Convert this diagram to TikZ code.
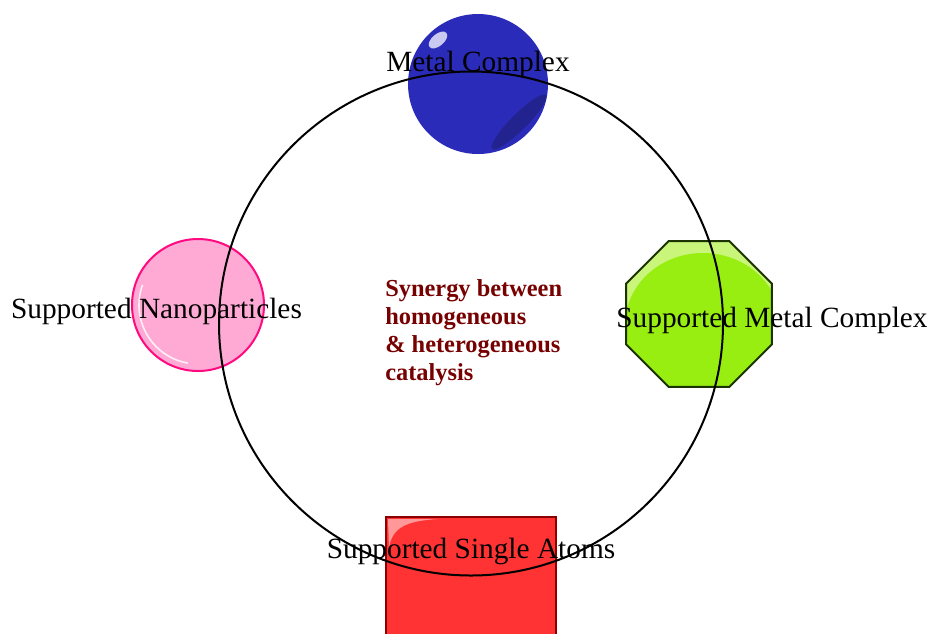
\documentclass[tikz,border=0pt]{standalone}
\usepackage{fontspec}
\setmainfont{Liberation Serif}
\usepackage{tikz}
\usetikzlibrary{shapes.geometric}

\definecolor{sphereblue}{HTML}{2B2BBA}
\definecolor{spheredark}{HTML}{23238F}
\definecolor{spherelight}{HTML}{C8C8F0}
\definecolor{nanofill}{HTML}{FFAAD5}
\definecolor{nanoline}{HTML}{FF0A80}
\definecolor{octfill}{HTML}{99EE11}
\definecolor{octlight}{HTML}{C8F57A}
\definecolor{octline}{HTML}{1A3300}
\definecolor{atomfill}{HTML}{FF3333}
\definecolor{atomline}{HTML}{8B0000}
\definecolor{synred}{HTML}{770000}

\begin{document}
\begin{tikzpicture}[x=0.75pt,y=-0.75pt,
	label/.style={font=\fontsize{22}{26}\selectfont, inner sep=0pt, anchor=base},
	shapebox/.style={inner sep=0pt, outer sep=0pt, line width=1.5pt}]
	\useasboundingbox (0,0) rectangle (932,633);

	% shapes first, then the ring, then the labels
	\node[shapebox, circle, fill=sphereblue, minimum size=105pt] (metalball) at (478,84) {};
	\fill[spheredark, rotate around={45:(519,122)}] (519,122) ellipse (38 and 8);
	\fill[spherelight, rotate around={40:(438,40)}] (438,40) ellipse (11 and 6);

	\node[shapebox, circle, draw=nanoline, fill=nanofill, minimum size=99pt] (nanoball) at (198,305) {};
	\draw[white, line width=1.2pt, opacity=0.8] (198,305) ++(200:59) arc[start angle=200, end angle=100, radius=59];

	\node[shapebox, regular polygon, regular polygon sides=8, fill=octfill, minimum size=118.5pt] (octagon) at (699,314) {};
	\begin{scope}[shift={(699,314)}]
		\clip (22.5:79) \foreach \a in {67.5,112.5,...,337.5} { -- (\a:79) } -- cycle;
		\fill[octlight] (0,0) circle (80);
		\fill[octfill] (4,11) ellipse (78 and 72);
	\end{scope}
	\node[shapebox, regular polygon, regular polygon sides=8, draw=octline, minimum size=118.5pt] at (octagon) {};

	\node[shapebox, rectangle, draw=atomline, fill=atomfill, minimum size=127.5pt] (atombox) at (471,602) {};
	\fill[white, opacity=0.5] (388,519) -- (438,519) .. controls (405,521) and (392,528) .. (389,548) -- cycle;

	\node[draw, circle, line width=1.5pt, minimum size=378pt, inner sep=0pt] (ring) at (471,323.5) {};

	\node[label] (metal) at (478,71) {Metal Complex};
	\node[label] (nano) at (156.5,318) {Supported Nanoparticles};
	\node[label] (suppmetal) at (772,327) {Supported Metal Complex};
	\node[label] (single) at (471,558) {Supported Single Atoms};

	\node[anchor=base west, inner sep=0pt, align=left, text=synred,
		font=\fontsize{18.3}{20.8}\selectfont\bfseries] (synergy) at (385,380)
		{Synergy between\\homogeneous\\\& heterogeneous\\catalysis};
\end{tikzpicture}
\end{document}
